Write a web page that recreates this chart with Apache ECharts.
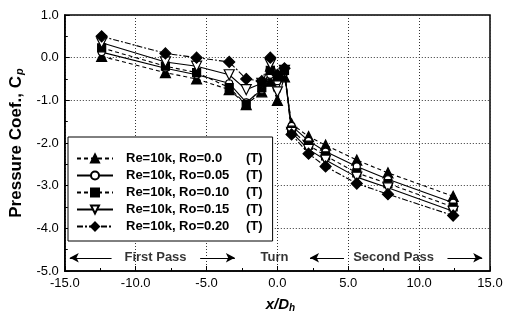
<!DOCTYPE html>
<html>
<head>
<meta charset="utf-8">
<script src="https://cdn.jsdelivr.net/npm/echarts@6/dist/echarts.min.js"></script>
<style>html,body{margin:0;padding:0;background:#fff}#c{width:507px;height:321px}</style>
</head>
<body>
<div id="c"></div>
<script>
// ---- data ----
const xPos = [-12.4, -7.9, -5.7, -3.4, -2.2, -1.1, -0.5, 0.0, 0.5, 1.0, 2.2, 3.4, 5.6, 7.8, 12.4];
const seriesNames = ['Re=10k, Ro=0.0', 'Re=10k, Ro=0.05', 'Re=10k, Ro=0.10', 'Re=10k, Ro=0.15', 'Re=10k, Ro=0.20'];
const ro000 = [0.03, -0.35, -0.50, -0.75, -1.10, -0.80, -0.55, -1.00, -0.45, -1.55, -1.85, -2.05, -2.40, -2.70, -3.25];
const ro005 = [0.13, -0.25, -0.40, -0.60, -1.05, -0.75, -0.40, -0.55, -0.35, -1.60, -1.95, -2.20, -2.55, -2.85, -3.40];
const ro010 = [0.23, -0.20, -0.35, -0.70, -1.10, -0.70, -0.30, -0.45, -0.30, -1.70, -2.05, -2.30, -2.70, -2.95, -3.50];
const ro015 = [0.35, -0.10, -0.20, -0.40, -0.75, -0.60, -0.15, -0.80, -0.30, -1.75, -2.15, -2.40, -2.80, -3.05, -3.60];
const ro020 = [0.50, 0.10, 0.00, -0.10, -0.50, -0.55, 0.00, -0.40, -0.25, -1.80, -2.25, -2.55, -2.95, -3.20, -3.70];
const xTicks = [-15, -10, -5, 0, 5, 10, 15];
const yTicks = [-5, -4, -3, -2, -1, 0, 1];
// annotations (text, x position), arrows [from, to, direction]
const annotY = -4.69;
const annotTexts = [['First Pass', -8.6], ['Turn', -0.2], ['Second Pass', 8.2]];
const annotArrows = [[-14.65, -11.7, 'left'], [-5.45, -3.0, 'right'], [2.3, 4.7, 'left'], [12.0, 14.45, 'right']];

const allVals = [ro000, ro005, ro010, ro015, ro020];
const symbols = ['triangle', 'circle', 'rect', 'path://M0,0 L10,0 L5,10 Z', 'diamond'];
const fills = ['#000', '#fff', '#000', '#fff', '#000'];
const sizes = [10, 7, 8, 10, 11];
const dashes = [[4, 3], 'solid', [4, 3], 'solid', [6, 2, 2, 2]];

const FONT = '"Liberation Sans", Arial, sans-serif';

const series = allVals.map((vals, i) => ({
  name: seriesNames[i],
  type: 'line',
  data: xPos.map((x, j) => [x, vals[j]]),
  symbol: symbols[i],
  symbolSize: sizes[i],
  itemStyle: { color: fills[i], borderColor: '#000', borderWidth: 1.2 },
  lineStyle: { color: '#000', width: 1.1, type: dashes[i] },
  z: 3
}));

series.push({
  name: 'annot',
  type: 'scatter',
  symbolSize: 0,
  data: annotTexts.map(a => ({ name: a[0], value: [a[1], annotY] })),
  label: {
    show: true, position: 'inside', formatter: p => p.name,
    fontFamily: FONT, fontWeight: 'bold', fontSize: 13, color: '#000'
  },
  silent: true,
  markLine: {
    silent: true,
    symbolSize: [7, 9],
    lineStyle: { color: '#000', width: 1, type: 'solid' },
    label: { show: false },
    data: annotArrows.map(a => [
      { coord: [a[0], annotY], symbol: a[2] === 'left' ? 'arrow' : 'none' },
      { coord: [a[1], annotY], symbol: a[2] === 'right' ? 'arrow' : 'none' }
    ])
  },
  z: 5
});

const chart = echarts.init(document.getElementById('c'), null, { renderer: 'canvas' });
chart.setOption({
  animation: false,
  backgroundColor: '#fff',
  grid: { left: 60, right: 17, top: 15, bottom: 50, show: true, borderColor: '#000', borderWidth: 1.5, backgroundColor: 'transparent' },
  legend: {
    data: seriesNames,
    orient: 'vertical',
    left: 68, top: 137,
    padding: [15, 10, 8, 8],
    itemGap: 4,
    itemWidth: 36, itemHeight: 10,
    backgroundColor: '#fff',
    borderColor: '#000', borderWidth: 1,
    textStyle: {
      fontFamily: FONT, fontWeight: 'bold', fontSize: 13, color: '#000',
      rich: {
        a: { fontFamily: FONT, fontWeight: 'bold', fontSize: 13, color: '#000', width: 120, padding: [0, 0, 0, 8] },
        b: { fontFamily: FONT, fontWeight: 'bold', fontSize: 13, color: '#000' }
      }
    },
    formatter: n => '{a|' + n + '}{b|(T)}'
  },
  xAxis: {
    type: 'value', min: xTicks[0], max: xTicks[xTicks.length - 1], interval: 5,
    name: 'x/D{s|h}', nameLocation: 'middle', nameGap: 26,
    nameTextStyle: {
      fontFamily: FONT, fontWeight: 'bold', fontStyle: 'italic', fontSize: 15, color: '#000',
      padding: [0, 0, 0, 6],
      rich: { s: { fontFamily: FONT, fontWeight: 'bold', fontStyle: 'italic', fontSize: 10, color: '#000', verticalAlign: 'bottom', padding: [6, 0, 0, 0] } }
    },
    axisLine: { show: true, onZero: false, lineStyle: { color: '#000', width: 1.5 } },
    axisTick: { show: true, inside: true, length: 5, lineStyle: { color: '#000' } },
    minorTick: { show: true, splitNumber: 2, length: 3, lineStyle: { color: '#000' } },
    axisLabel: { fontFamily: FONT, fontSize: 13, color: '#000', margin: 6, formatter: v => v.toFixed(1) },
    splitLine: { show: true, lineStyle: { color: '#333', width: 1, type: [1, 2] } }
  },
  yAxis: {
    type: 'value', min: yTicks[0], max: yTicks[yTicks.length - 1], interval: 1,
    name: 'Pressure Coef., C{s|p}', nameLocation: 'middle', nameGap: 38,
    nameTextStyle: {
      fontFamily: FONT, fontWeight: 'bold', fontSize: 17, color: '#000',
      rich: { s: { fontFamily: FONT, fontWeight: 'bold', fontStyle: 'italic', fontSize: 11, color: '#000', verticalAlign: 'bottom', padding: [7, 0, 0, 1] } }
    },
    axisLine: { show: true, onZero: false, lineStyle: { color: '#000', width: 1.5 } },
    axisTick: { show: true, inside: true, length: 5, lineStyle: { color: '#000' } },
    minorTick: { show: true, splitNumber: 2, length: 3, lineStyle: { color: '#000' } },
    axisLabel: { fontFamily: FONT, fontSize: 13, color: '#000', margin: 6, formatter: v => v.toFixed(1) },
    splitLine: { show: true, lineStyle: { color: '#333', width: 1, type: [1, 2] } }
  },
  series: series
});
</script>
</body>
</html>
